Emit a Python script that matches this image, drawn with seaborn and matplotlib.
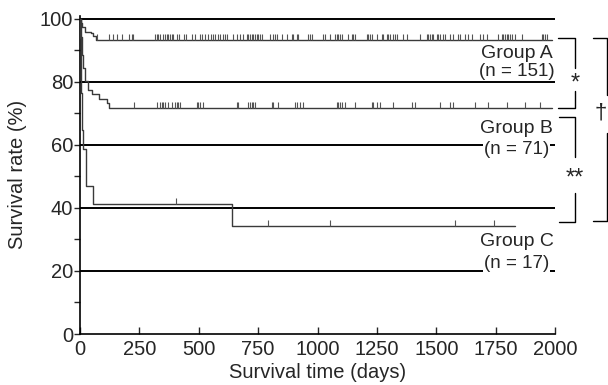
import numpy as np
from matplotlib import pyplot as plt
from matplotlib.path import Path
import seaborn as sns

# ==============================================================================
# DATA
# ==============================================================================
# Kaplan-Meier steps: time (days) where the curve drops, survival (%) after the drop
a_times = [0, 3, 8, 21, 45, 55, 66]
a_surv = [100, 98.7, 97.4, 96.0, 95.4, 94.7, 93.4]
a_end = 1986
a_censor = [73, 124, 140, 157, 175, 208, 217, 224, 316, 323, 330, 337, 351, 358,
            365, 372, 379, 386, 393, 407, 418, 438, 446, 470, 484, 505, 515, 525,
            540, 550, 560, 570, 580, 590, 600, 610, 618, 645, 660, 674, 688, 702,
            709, 716, 723, 730, 737, 744, 751, 758, 765, 800, 814, 821, 828, 849,
            870, 891, 898, 912, 919, 961, 968, 976, 1025, 1032, 1053, 1074, 1081,
            1088, 1095, 1102, 1130, 1144, 1151, 1158, 1207, 1214, 1221, 1228, 1249,
            1270, 1277, 1291, 1298, 1305, 1319, 1326, 1333, 1361, 1375, 1432, 1460,
            1467, 1474, 1481, 1488, 1502, 1509, 1516, 1530, 1537, 1558, 1572, 1593,
            1600, 1621, 1635, 1649, 1684, 1698, 1712, 1761, 1775, 1782, 1789, 1796,
            1803, 1811, 1818, 1832, 1860, 1944, 1951, 1958, 1965]

b_times = [0, 3, 8, 14, 21, 35, 49, 81, 112, 124]
b_surv = [100, 94.4, 88.7, 84.5, 80.3, 77.5, 76.1, 74.6, 73.2, 71.8]
b_end = 1986
b_censor = [227, 323, 337, 344, 351, 358, 372, 386, 400, 407, 414, 421, 491, 498,
            505, 519, 660, 667, 709, 716, 723, 730, 737, 807, 814, 835, 905, 912,
            926, 940, 1081, 1088, 1095, 1102, 1116, 1158, 1228, 1235, 1249, 1263,
            1319, 1396, 1410, 1516, 1558, 1572, 1663, 1719, 1796, 1874, 1937]

c_times = [0, 2, 3, 5, 6, 8, 10, 12, 25, 56, 638]
c_surv = [100, 94.1, 88.2, 82.4, 76.5, 70.6, 64.7, 58.8, 47.1, 41.2, 34.3]
c_end = 1830
c_censor = [403, 791, 1053, 1579, 1744]

group_names = ["Group A", "Group B", "Group C"]
group_counts = ["(n = 151)", "(n = 71)", "(n = 17)"]
name_y = [88.9, 65.1, 29.5]
count_y = [83.2, 58.7, 22.5]

grid_levels = [20, 40, 60, 80, 100]
x_ticks = [0, 250, 500, 750, 1000, 1250, 1500, 1750, 2000]
y_ticks = [0, 20, 40, 60, 80, 100]
y_minor = [10, 30, 50, 70, 90]

# ==============================================================================
# PLOT
# ==============================================================================
sns.set_theme(style="ticks")
plt.rcParams['font.family'] = ['Liberation Sans', 'DejaVu Sans']

fig = plt.figure(figsize=(6.08, 3.85), dpi=100)
ax = fig.add_axes([80 / 608, 51 / 385, 475 / 608, 318.2 / 385])

# horizontal reference lines
ax.hlines(grid_levels, 0, 2000, color='black', lw=1.4, zorder=1)

# upward-only censor tick
tick_marker = Path([(0, 0), (0, 1)], [Path.MOVETO, Path.LINETO])
curve_color = '#3a3a3a'

for times, surv, end, cens in [(a_times, a_surv, a_end, a_censor),
                               (b_times, b_surv, b_end, b_censor),
                               (c_times, c_surv, c_end, c_censor)]:
    xs = list(times) + [end]
    ys = list(surv) + [surv[-1]]
    sns.lineplot(x=xs, y=ys, ax=ax, drawstyle='steps-post', estimator=None,
                 sort=False, color=curve_color, lw=1.0, zorder=3)
    idx = np.searchsorted(times, cens, side='right') - 1
    ax.plot(cens, np.array(surv)[idx], linestyle='none', marker=tick_marker,
            markersize=8, markeredgewidth=0.8, color='#555555', zorder=3)

# group labels
for name, cnt, yn, yc in zip(group_names, group_counts, name_y, count_y):
    ax.text(1838, yn, name, ha='center', va='center', fontsize=14, zorder=5)
    ax.text(1838, yc, cnt, ha='center', va='center', fontsize=13.5, zorder=5,
            bbox=dict(facecolor='white', edgecolor='none', pad=0.5))

# significance brackets (outside the axes)
bk = dict(color='black', lw=1.0, clip_on=False)
ax.plot([2013, 2084, 2084], [93.9, 93.9, 84.5], **bk)
ax.plot([2084, 2084, 2013], [77.0, 71.7, 71.7], **bk)
ax.text(2084, 79.5, '*', ha='center', va='center', fontsize=17)

ax.plot([2017, 2084, 2084], [68.9, 68.9, 56.2], **bk)
ax.plot([2084, 2084, 2017], [44.8, 35.6, 35.6], **bk)
ax.text(2084, 49.5, '**', ha='center', va='center', fontsize=17)

ax.plot([2160, 2219, 2219], [93.9, 93.9, 75.9], **bk)
ax.plot([2219, 2219, 2160], [63.8, 35.9, 35.9], **bk)
ax.text(2194, 70.0, '\u2020', ha='center', va='center', fontsize=16)

# axes styling
ax.set_xlim(0, 2000)
ax.set_ylim(0, 101)
ax.set_xticks(x_ticks)
ax.set_yticks(y_ticks)
ax.set_yticks(y_minor, minor=True)
ax.tick_params(axis='x', direction='in', length=5, width=1, labelsize=14.5, pad=4)
ax.tick_params(axis='y', which='major', direction='out', length=4, width=1,
               labelsize=14.5, pad=1)
ax.tick_params(axis='y', which='minor', direction='out', length=4, width=1)
sns.despine(ax=ax)
for side in ['left', 'bottom']:
    ax.spines[side].set_color('black')
    ax.spines[side].set_linewidth(1.2)
ax.set_xlabel('Survival time (days)', fontsize=14.5, labelpad=3)
ax.set_ylabel('Survival rate (%)', fontsize=14.5, labelpad=9)

fig.savefig('out.png', dpi=100)
